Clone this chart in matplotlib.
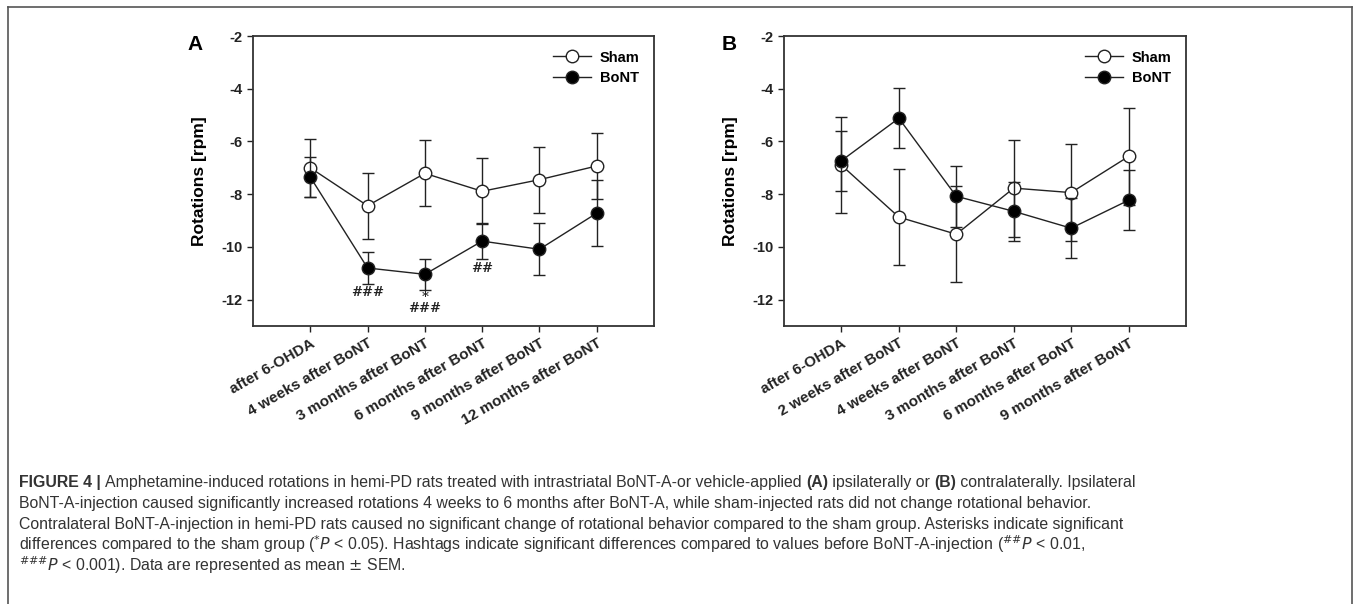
import matplotlib
matplotlib.use("Agg")
import matplotlib.pyplot as plt
from matplotlib.lines import Line2D
import numpy as np

plt.rcParams["font.family"] = ["Liberation Sans", "DejaVu Sans"]
plt.rcParams["mathtext.fontset"] = "custom"
plt.rcParams["mathtext.rm"] = "Liberation Sans Narrow"
plt.rcParams["mathtext.it"] = "Liberation Sans Narrow:italic"
plt.rcParams["mathtext.bf"] = "Liberation Sans Narrow:bold"

# panel A: ipsilateral
labels_a = ["after 6-OHDA", "4 weeks after BoNT", "3 months after BoNT",
            "6 months after BoNT", "9 months after BoNT", "12 months after BoNT"]
sham_a = [-7.0, -8.44, -7.21, -7.89, -7.45, -6.93]
sham_a_sem = [1.1, 1.25, 1.25, 1.25, 1.25, 1.25]
bont_a = [-7.35, -10.8, -11.04, -9.78, -10.09, -8.72]
bont_a_sem = [0.75, 0.6, 0.59, 0.69, 0.98, 1.25]
marks_a = [(1, -11.73, "###"), (2, -11.92, "*"), (2, -12.34, "###"), (3, -10.82, "##")]

# panel B: contralateral
labels_b = ["after 6-OHDA", "2 weeks after BoNT", "4 weeks after BoNT",
            "3 months after BoNT", "6 months after BoNT", "9 months after BoNT"]
sham_b = [-6.9, -8.87, -9.52, -7.77, -7.94, -6.57]
sham_b_sem = [1.83, 1.83, 1.83, 1.84, 1.83, 1.83]
bont_b = [-6.73, -5.12, -8.08, -8.65, -9.29, -8.23]
bont_b_sem = [1.14, 1.14, 1.15, 1.12, 1.14, 1.14]

yticks = [-2, -4, -6, -8, -10, -12]

# caption lines as (text, bold) pieces
caption = [
    [("FIGURE 4 | ", True),
     ("Amphetamine-induced rotations in hemi-PD rats treated with intrastriatal BoNT-A-or vehicle-applied ", False),
     ("(A)", True), (" ipsilaterally or ", False), ("(B)", True), (" contralaterally. Ipsilateral", False)],
    [("BoNT-A-injection caused significantly increased rotations 4 weeks to 6 months after BoNT-A, while sham-injected rats did not change rotational behavior.", False)],
    [("Contralateral BoNT-A-injection in hemi-PD rats caused no significant change of rotational behavior compared to the sham group. Asterisks indicate significant", False)],
    [(r"differences compared to the sham group ($^{*}P$ < 0.05). Hashtags indicate significant differences compared to values before BoNT-A-injection ($^{\#\#}P$ < 0.01,", False)],
    [(r"$^{\#\#\#}P$ < 0.001). Data are represented as mean $\pm$ SEM.", False)],
]

edge = "#222222"
fig = plt.figure(figsize=(13.54, 6.04), dpi=100)


def draw_panel(ax, labels, sham, sham_sem, bont, bont_sem):
    x = np.arange(len(labels))
    ax.errorbar(x, sham, yerr=sham_sem, color=edge, lw=1, capsize=4, capthick=1.2,
                marker="o", ms=9, mfc="white", mec=edge, mew=1, zorder=3)
    ax.errorbar(x, bont, yerr=bont_sem, color=edge, lw=1, capsize=4, capthick=1.2,
                marker="o", ms=9, mfc="black", mec=edge, mew=1, zorder=4)
    ax.set_xlim(-1, len(labels))
    ax.set_ylim(-13, -2)
    ax.set_yticks(yticks)
    ax.set_yticklabels([str(t) for t in yticks], fontweight="bold", fontsize=10.5)
    ax.set_xticks(x)
    ax.set_xticklabels(labels, rotation=30, ha="right", rotation_mode="anchor",
                       fontweight="bold", fontsize=11)
    ax.tick_params(direction="out", length=4, width=1, colors=edge)
    for s in ax.spines.values():
        s.set_linewidth(1.3)
        s.set_color("#333333")
    ax.set_ylabel("Rotations [rpm]", fontweight="bold", fontsize=12.5, labelpad=10)
    handles = [
        Line2D([], [], color=edge, lw=1, marker="o", ms=9, mfc="white", mec=edge),
        Line2D([], [], color=edge, lw=1, marker="o", ms=9, mfc="black", mec=edge),
    ]
    ax.legend(handles, ["Sham", "BoNT"], loc="upper right", frameon=False,
              prop={"weight": "bold", "size": 10.5}, handlelength=2.6,
              borderaxespad=0.6, labelspacing=0.45, handletextpad=0.6)


ax_a = fig.add_axes([253 / 1354, 1 - 326 / 604, 401 / 1354, 290 / 604])
draw_panel(ax_a, labels_a, sham_a, sham_a_sem, bont_a, bont_a_sem)
for xi, yi, s in marks_a:
    ax_a.text(xi, yi, s, ha="center", va="center", fontsize=9.5, fontweight="bold",
              family="DejaVu Serif", color=edge)

ax_b = fig.add_axes([784 / 1354, 1 - 326 / 604, 402 / 1354, 290 / 604])
draw_panel(ax_b, labels_b, sham_b, sham_b_sem, bont_b, bont_b_sem)

fig.text(195 / 1354, 1 - 44 / 604, "A", fontsize=15, fontweight="bold", ha="center", va="center")
fig.text(729 / 1354, 1 - 44 / 604, "B", fontsize=15, fontweight="bold", ha="center", va="center")

# caption, pieces placed one after another
renderer = fig.canvas.get_renderer()
cap_font = ["Liberation Sans Narrow", "Liberation Sans"]
for i, pieces in enumerate(caption):
    x_px = 19
    y_fig = 1 - (487 + 21 * i) / 604
    for txt, bold in pieces:
        t = fig.text(x_px / 1354, y_fig, txt, fontsize=11.45, color="#333333",
                     family=cap_font, fontweight="bold" if bold else "normal",
                     va="baseline", ha="left")
        bb = t.get_window_extent(renderer)
        x_px += bb.width

# outer frame (open at bottom)
fx0, fx1, fy1 = 8 / 1354, 1352 / 1354, 1 - 7 / 604
for xs, ys in [([fx0, fx0], [0, fy1]), ([fx0, fx1], [fy1, fy1]), ([fx1, fx1], [fy1, 0])]:
    fig.add_artist(Line2D(xs, ys, color="#555555", lw=1.2, transform=fig.transFigure))

fig.savefig("out.png", dpi=100)
